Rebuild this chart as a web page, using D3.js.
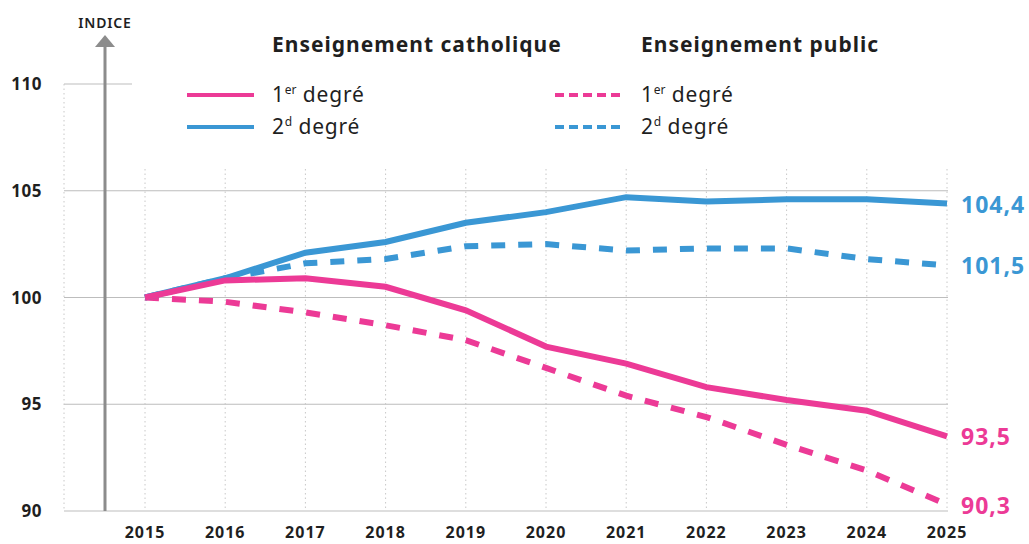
<!DOCTYPE html>
<html>
<head>
<meta charset="utf-8">
<script src="https://cdn.jsdelivr.net/npm/d3@7"></script>
<style>
  body { margin: 0; background: #fff; }
  text { font-family: "Noto Sans", "Open Sans", sans-serif; }
</style>
</head>
<body>
<div id="chart"></div>
<script>
const years = [2015, 2016, 2017, 2018, 2019, 2020, 2021, 2022, 2023, 2024, 2025];
const cathoPremier = [100, 100.8, 100.9, 100.5, 99.4, 97.7, 96.9, 95.8, 95.2, 94.7, 93.5];
const cathoSecond = [100, 100.9, 102.1, 102.6, 103.5, 104.0, 104.7, 104.5, 104.6, 104.6, 104.4];
const publicPremier = [100, 99.8, 99.3, 98.7, 98.0, 96.7, 95.4, 94.4, 93.1, 91.9, 90.3];
const publicSecond = [100, 100.9, 101.6, 101.8, 102.4, 102.5, 102.2, 102.3, 102.3, 101.8, 101.5];
const yTicks = [90, 95, 100, 105, 110];

const width = 1029;
const height = 544;
const pink = "#ec3a96";
const blue = "#3a97d4";
const textColor = "#1f1f1f";

const x = d3.scaleLinear().domain([2015, 2025]).range([145, 947]);
const y = d3.scaleLinear().domain([90, 110]).range([511, 84]);

const svg = d3.select('#chart').append('svg')
  .attr('width', width)
  .attr('height', height);

// horizontal grid
svg.append('g').selectAll('line')
  .data(yTicks)
  .join('line')
  .attr('x1', 64)
  .attr('x2', d => d === 110 ? 132 : 948)
  .attr('y1', d => y(d))
  .attr('y2', d => y(d))
  .attr('stroke', '#bdbdbd')
  .attr('stroke-width', 1.2);

// vertical dotted grid
svg.append('line')
  .attr('x1', 64).attr('x2', 64)
  .attr('y1', y(110)).attr('y2', y(90))
  .attr('stroke', '#c8c8c8')
  .attr('stroke-dasharray', '1.5,3');

svg.append('g').selectAll('line')
  .data(years)
  .join('line')
  .attr('x1', d => x(d))
  .attr('x2', d => x(d))
  .attr('y1', 169)
  .attr('y2', y(90))
  .attr('stroke', '#c8c8c8')
  .attr('stroke-dasharray', '1.5,3');

// y tick labels
svg.append('g').selectAll('text')
  .data(yTicks)
  .join('text')
  .attr('x', 42)
  .attr('y', d => y(d) + 6)
  .attr('text-anchor', 'end')
  .attr('font-size', 17)
  .attr('font-weight', 700)
  .attr('letter-spacing', 0.5)
  .attr('fill', textColor)
  .text(d => d);

// x tick labels
svg.append('g').selectAll('text')
  .data(years)
  .join('text')
  .attr('x', d => x(d))
  .attr('y', 538)
  .attr('text-anchor', 'middle')
  .attr('font-size', 16)
  .attr('font-weight', 700)
  .attr('letter-spacing', 1)
  .attr('fill', textColor)
  .text(d => d);

// y axis arrow
svg.append('line')
  .attr('x1', 105).attr('x2', 105)
  .attr('y1', 44).attr('y2', y(90))
  .attr('stroke', '#8c8c8c')
  .attr('stroke-width', 3);
svg.append('path')
  .attr('d', 'M95,47 L105,35 L115,47 Z')
  .attr('fill', '#8c8c8c');
svg.append('text')
  .attr('x', 105).attr('y', 28)
  .attr('text-anchor', 'middle')
  .style('font-size', '14px')
  .style('font-weight', 600)
  .attr('letter-spacing', 0.8)
  .attr('fill', textColor)
  .text('INDICE');

// lines
const series = [
  { values: publicSecond, color: blue, dash: '14,13', label: '101,5' },
  { values: publicPremier, color: pink, dash: '14,13', label: '90,3' },
  { values: cathoSecond, color: blue, dash: null, label: '104,4' },
  { values: cathoPremier, color: pink, dash: null, label: '93,5' }
];

const line = d3.line()
  .x((d, i) => x(years[i]))
  .y(d => y(d));

svg.append('g').selectAll('path')
  .data(series)
  .join('path')
  .attr('d', d => line(d.values))
  .attr('fill', 'none')
  .attr('stroke', d => d.color)
  .attr('stroke-width', 6)
  .attr('stroke-dasharray', d => d.dash);

// end labels
svg.append('g').selectAll('text')
  .data(series)
  .join('text')
  .attr('x', 961)
  .attr('y', d => y(d.values[d.values.length - 1]) + 9)
  .attr('font-size', 23)
  .attr('font-weight', 700)
  .attr('letter-spacing', 1)
  .attr('fill', d => d.color)
  .text(d => d.label);

// legend
const legend = svg.append('g');
const groups = [
  { title: 'Enseignement catholique', tx: 272, lx: 187, dash: null },
  { title: 'Enseignement public', tx: 641, lx: 555, dash: '9,5' }
];
groups.forEach(function (g) {
  legend.append('text')
    .attr('x', g.tx).attr('y', 52)
    .attr('font-size', 21)
    .attr('font-weight', 700)
    .attr('letter-spacing', 1)
    .attr('fill', textColor)
    .text(g.title);
  [{ sup: 'er', color: pink, ly: 95 }, { sup: 'd', color: blue, ly: 127 }].forEach(function (r, i) {
    legend.append('line')
      .attr('x1', g.lx).attr('x2', g.lx + 67)
      .attr('y1', r.ly).attr('y2', r.ly)
      .attr('stroke', r.color)
      .attr('stroke-width', 4)
      .attr('stroke-dasharray', g.dash);
    const t = legend.append('text')
      .attr('x', g.tx).attr('y', r.ly + 7)
      .attr('font-size', 21)
      .attr('letter-spacing', 0.8)
      .attr('fill', textColor);
    t.append('tspan').text(i === 0 ? '1' : '2');
    t.append('tspan').attr('dy', -8).attr('font-size', 12).attr('letter-spacing', 0).text(r.sup);
    t.append('tspan').attr('dy', 8).text(' degré');
  });
});
</script>
</body>
</html>
